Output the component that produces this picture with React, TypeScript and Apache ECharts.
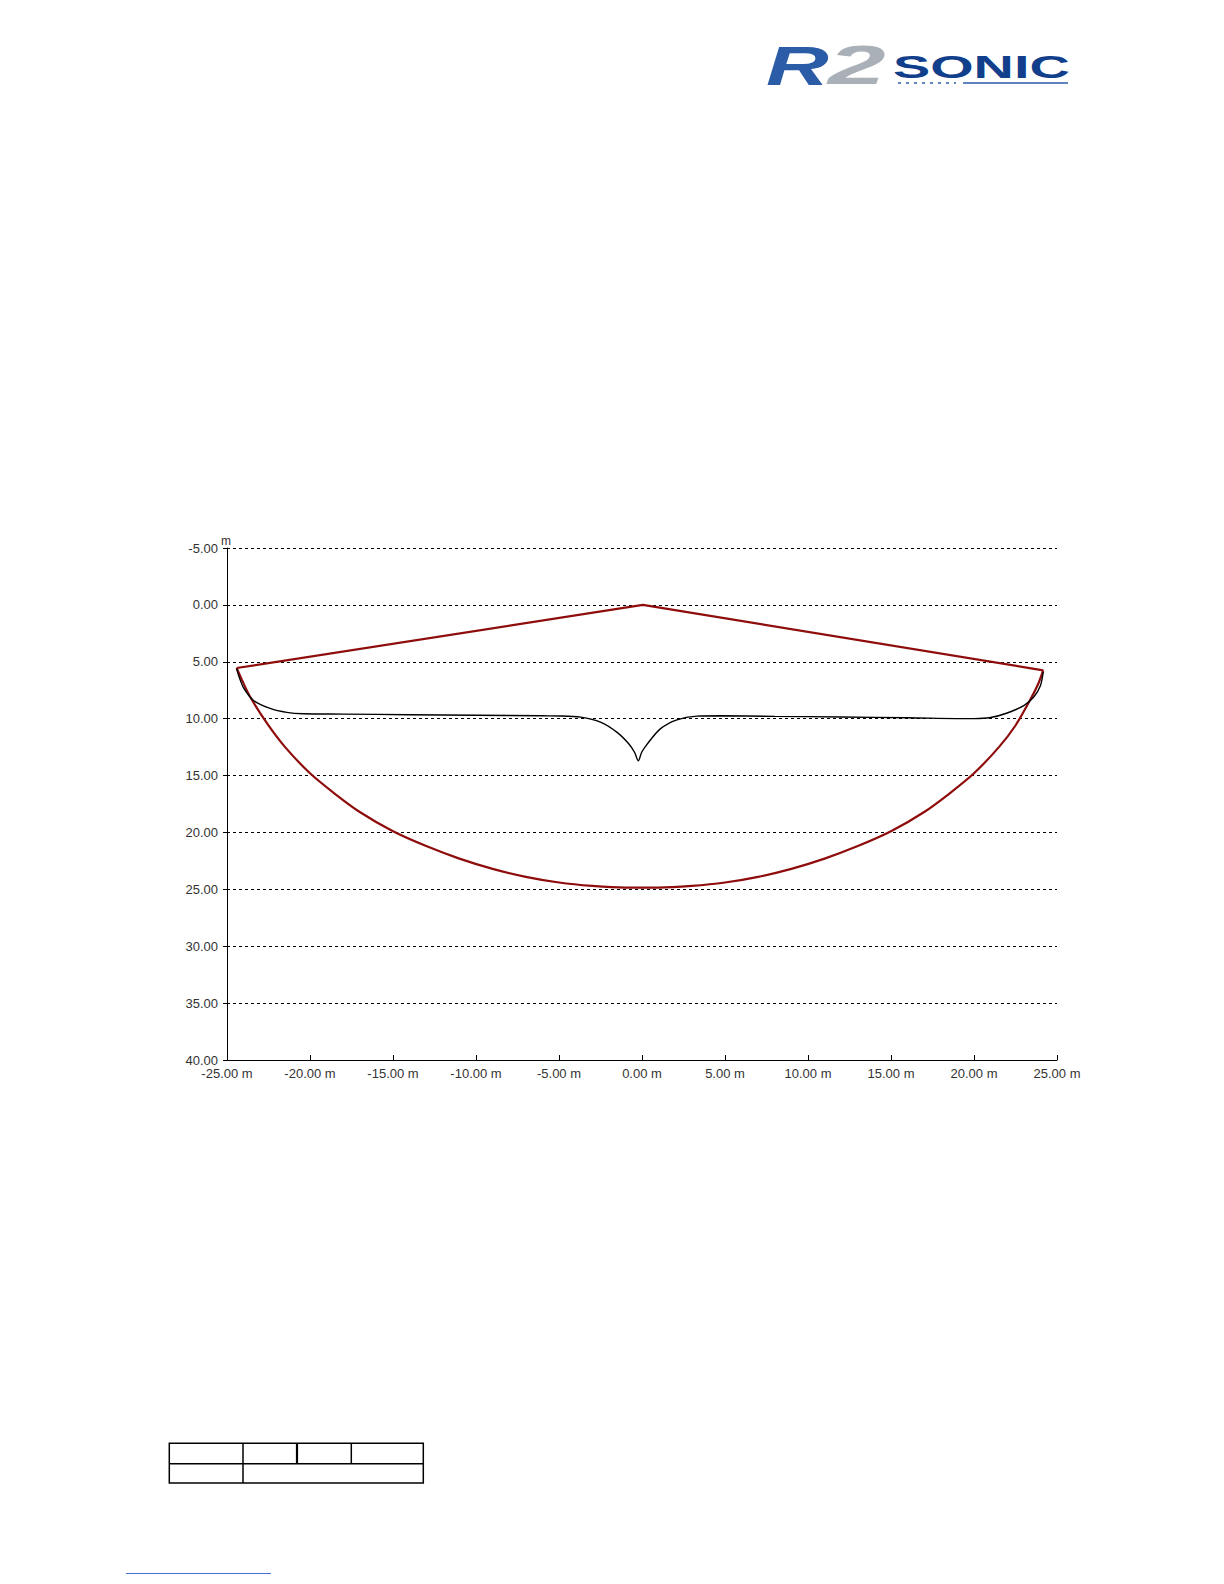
import React, { useEffect, useRef } from 'react';
import * as echarts from 'echarts';

// Axis ranges (metres)
const xMin = -25;
const xMax = 25;
const yMin = -5;
const yMax = 40;
const step = 5;

// Red coverage outline: upper swath edges (left end -> nadir -> right end)
const redUpper: [number, number][] = [
  [-24.42, 5.55],
  [0.05, 0.0],
  [24.17, 5.75],
];

// Red coverage outline: lower arc, left to right
const redLower: [number, number][] = [
  [-24.42, 5.55], [-24.1, 6.6], [-23.6, 8.1], [-22.5, 10.6], [-21.5, 12.5],
  [-20.0, 14.8], [-18.5, 16.6], [-17.0, 18.2], [-15.0, 19.9], [-13.0, 21.2],
  [-11.0, 22.3], [-9.0, 23.2], [-7.0, 23.9], [-5.0, 24.4], [-3.0, 24.7],
  [-1.0, 24.85], [1.0, 24.85], [3.0, 24.7], [5.0, 24.4], [7.0, 23.9],
  [9.0, 23.2], [11.0, 22.3], [13.0, 21.2], [15.0, 19.9], [17.0, 18.2],
  [18.5, 16.6], [20.0, 14.8], [21.5, 12.5], [22.5, 10.6], [23.4, 8.3],
  [23.85, 7.0], [24.17, 5.75],
];

// Black profile curve, left to right
const blackCurve: [number, number][] = [
  [-24.42, 5.6], [-24.3, 6.2], [-24.0, 7.3], [-23.4, 8.4], [-22.4, 9.1],
  [-21.4, 9.45], [-20.4, 9.57], [-18.0, 9.6], [-14.0, 9.65], [-10.0, 9.7],
  [-6.0, 9.75], [-4.9, 9.76], [-3.7, 9.86], [-2.5, 10.3], [-1.5, 11.2],
  [-0.8, 12.2], [-0.45, 12.95], [-0.22, 13.7], [-0.02, 12.95], [0.28, 12.3],
  [1.1, 10.9], [2.1, 10.1], [3.3, 9.78], [4.7, 9.75], [8.0, 9.8],
  [12.0, 9.85], [16.0, 9.92], [20.0, 10.0], [21.0, 9.9], [22.0, 9.5],
  [23.0, 8.85], [23.6, 8.1], [24.0, 7.1], [24.17, 5.9],
];

const W = 1224;
const H = 1584;

export default function App() {
  const ref = useRef<HTMLDivElement>(null);

  useEffect(() => {
    if (!ref.current) return;
    const chart = echarts.init(ref.current, undefined, { renderer: 'svg' });
    const font = '"Liberation Sans", Arial, sans-serif';
    const tableLine = { stroke: '#000', lineWidth: 1.5 };

    chart.setOption({
      animation: false,
      backgroundColor: '#fff',
      grid: { left: 227, right: W - 1057, top: 548, bottom: H - 1060, containLabel: false },
      xAxis: {
        type: 'value',
        min: xMin,
        max: xMax,
        interval: step,
        axisLine: { show: true, onZero: false, lineStyle: { color: '#000', width: 1 } },
        axisTick: { show: true, inside: true, length: 5, lineStyle: { color: '#000' } },
        axisLabel: {
          color: '#333',
          fontSize: 13,
          fontFamily: font,
          margin: 7,
          formatter: (v: number) => v.toFixed(2) + ' m',
        },
        splitLine: { show: false },
      },
      yAxis: {
        type: 'value',
        inverse: true,
        min: yMin,
        max: yMax,
        interval: step,
        axisLine: { show: true, onZero: false, lineStyle: { color: '#000', width: 1 } },
        axisTick: { show: true, inside: false, length: 4, lineStyle: { color: '#000' } },
        axisLabel: {
          color: '#333',
          fontSize: 13,
          fontFamily: font,
          margin: 9,
          formatter: (v: number) => v.toFixed(2),
        },
        splitLine: { show: true, lineStyle: { color: '#000', width: 1, type: [3, 3] } },
      },
      series: [
        {
          type: 'line',
          data: redUpper,
          showSymbol: false,
          lineStyle: { color: '#8e0c0c', width: 2.2 },
          z: 3,
        },
        {
          type: 'line',
          data: redLower,
          showSymbol: false,
          smooth: 0.3,
          lineStyle: { color: '#8e0c0c', width: 2.2 },
          z: 3,
        },
        {
          type: 'line',
          data: blackCurve,
          showSymbol: false,
          smooth: 0.3,
          lineStyle: { color: '#000', width: 1.4 },
          z: 4,
        },
      ],
      graphic: [
        // Y axis unit
        {
          type: 'text',
          x: 226,
          y: 541,
          style: {
            text: 'm',
            font: '12px "Liberation Sans"',
            fill: '#333',
            align: 'center',
            verticalAlign: 'middle',
          },
        },
        // Logo
        {
          type: 'text',
          x: 766,
          y: 37,
          scaleX: 1.55,
          style: {
            text: 'R',
            font: 'italic bold 56px "Liberation Sans"',
            fill: '#2a5ca8',
          },
        },
        {
          type: 'text',
          x: 828,
          y: 37,
          scaleX: 1.85,
          style: {
            text: '2',
            font: 'italic bold 56px "Liberation Sans"',
            fill: '#aab0b7',
          },
        },
        {
          type: 'text',
          x: 893,
          y: 52,
          scaleX: 1.8,
          style: {
            text: 'SONIC',
            font: 'bold 31px "Liberation Sans"',
            fill: '#123f8c',
          },
        },
        {
          type: 'line',
          shape: { x1: 963, y1: 83, x2: 1068, y2: 83 },
          style: { stroke: '#2a5aa8', lineWidth: 1.5 },
        },
        {
          type: 'line',
          shape: { x1: 898, y1: 83, x2: 956, y2: 83 },
          style: { stroke: '#2a5aa8', lineWidth: 1.5, lineDash: [3, 5] },
        },
        // Table at the bottom
        { type: 'rect', shape: { x: 169.3, y: 1443.3, width: 254, height: 39.7 }, style: { ...tableLine, fill: 'none' } },
        { type: 'line', shape: { x1: 169.3, y1: 1463.7, x2: 423.3, y2: 1463.7 }, style: tableLine },
        { type: 'line', shape: { x1: 243, y1: 1443.3, x2: 243, y2: 1483 }, style: tableLine },
        { type: 'line', shape: { x1: 297, y1: 1443.3, x2: 297, y2: 1463.7 }, style: { stroke: '#000', lineWidth: 2.2 } },
        { type: 'line', shape: { x1: 351.3, y1: 1443.3, x2: 351.3, y2: 1463.7 }, style: tableLine },
        // Hyperlink underline
        { type: 'line', shape: { x1: 126, y1: 1573.5, x2: 271, y2: 1573.5 }, style: { stroke: '#4a6fd8', lineWidth: 1 } },
      ],
    });

    return () => chart.dispose();
  }, []);

  return (
    <div
      ref={ref}
      style={{ position: 'absolute', left: 0, top: 0, width: W, height: H, background: '#fff' }}
    />
  );
}
